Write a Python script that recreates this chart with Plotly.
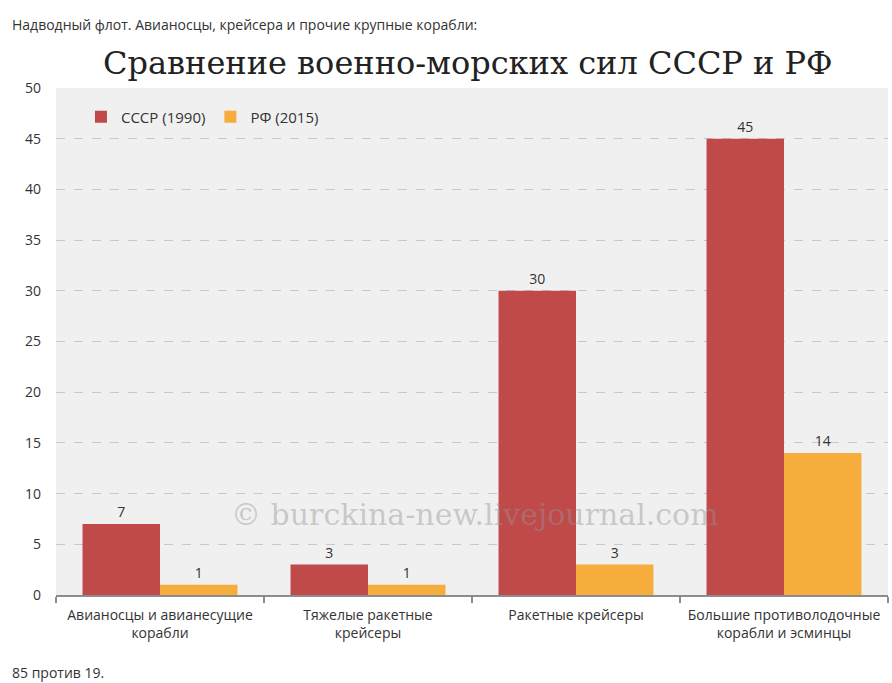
import plotly.graph_objects as go

categories = ["Авианосцы и авианесущие<br>корабли", "Тяжелые ракетные<br>крейсеры",
              "Ракетные крейсеры", "Большие противолодочные<br>корабли и эсминцы"]
ussr_1990 = [7, 3, 30, 45]
rf_2015 = [1, 1, 3, 14]
series_names = ["СССР (1990)", "РФ (2015)"]
y_ticks = [0, 5, 10, 15, 20, 25, 30, 35, 40, 45, 50]

RED = "#c0494a"
ORANGE = "#f6ad3c"
TXT = "#333333"

fig = go.Figure()
for name, vals, col in [(series_names[0], ussr_1990, RED), (series_names[1], rf_2015, ORANGE)]:
    fig.add_trace(go.Bar(
        x=categories, y=vals, name=name,
        marker=dict(color=col, line=dict(width=0)),
        text=[str(v) for v in vals], textposition="outside",
        textfont=dict(family="Open Sans", size=14, color=TXT),
        cliponaxis=False,
    ))

fig.update_layout(
    width=892, height=683,
    margin=dict(l=56, r=4, t=88, b=88),
    paper_bgcolor="white",
    plot_bgcolor="#f0f0f1",
    barmode="group", bargap=0.255, bargroupgap=0,
    font=dict(family="Open Sans", size=14, color=TXT),
    showlegend=True,
    legend=dict(orientation="h", x=0.03, y=0.943, xanchor="left", yanchor="middle",
                bgcolor="rgba(0,0,0,0)", font=dict(size=15, color=TXT),
                itemwidth=30, traceorder="normal"),
    xaxis=dict(showline=True, linecolor="#8c8c8c", linewidth=2,
               ticks="outside", tickson="boundaries", ticklen=6, tickcolor="#8c8c8c",
               tickwidth=2, showgrid=False, ticklabelstandoff=6,
               tickfont=dict(family="Open Sans", size=14, color=TXT)),
    yaxis=dict(range=[0, 50], tickvals=y_ticks, showgrid=True, gridcolor="#c8c8c8",
               griddash="dash", gridwidth=1, zeroline=False, showline=False,
               ticks="", ticklabelstandoff=14,
               tickfont=dict(family="Open Sans", size=14, color=TXT)),
)

fig.add_annotation(text="Надводный флот. Авианосцы, крейсера и прочие крупные корабли:",
                   xref="paper", yref="paper", x=-56/832, y=1 + (88-24)/507,
                   xanchor="left", yanchor="middle", showarrow=False,
                   font=dict(family="Open Sans", size=14, color="#333333"),
                   xshift=10)
fig.add_annotation(text="Сравнение военно-морских сил СССР и РФ",
                   xref="paper", yref="paper", x=(468-56)/832, y=1 + (88-63)/507,
                   xanchor="center", yanchor="middle", showarrow=False,
                   font=dict(family="DejaVu Serif", size=32, color="#222222"))
fig.add_annotation(text="© burckina-new.livejournal.com",
                   xref="paper", yref="paper", x=(475-56)/832, y=(595-514)/507,
                   xanchor="center", yanchor="middle", showarrow=False,
                   font=dict(family="DejaVu Serif", size=30, color="rgba(150,150,150,0.45)"))
fig.add_annotation(text="85 против 19.",
                   xref="paper", yref="paper", x=-56/832, y=-(672-595)/507,
                   xanchor="left", yanchor="middle", showarrow=False,
                   font=dict(family="Open Sans", size=14, color="#333333"),
                   xshift=10)

fig.write_html("out.html")
